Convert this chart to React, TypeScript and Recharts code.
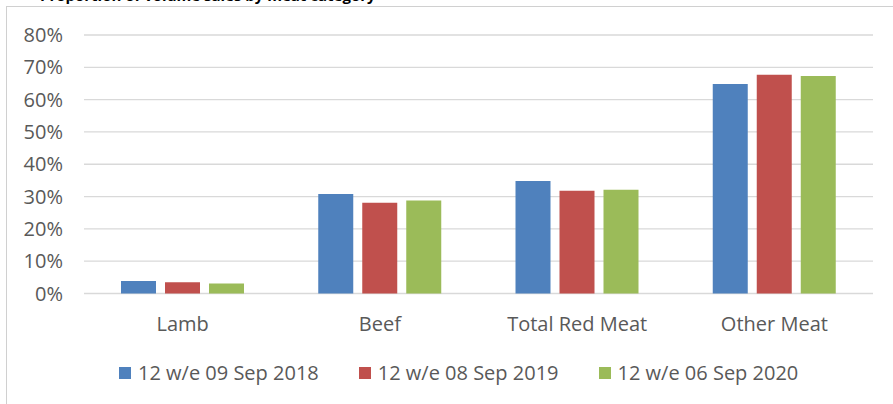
import React from "react";
import {
  BarChart,
  Bar,
  XAxis,
  YAxis,
  CartesianGrid,
  Legend,
} from "recharts";

const categories = ["Lamb", "Beef", "Total Red Meat", "Other Meat"];
const series2018 = [0.039, 0.308, 0.348, 0.648];
const series2019 = [0.035, 0.281, 0.318, 0.677];
const series2020 = [0.031, 0.288, 0.321, 0.673];
const yTicks = [0, 0.1, 0.2, 0.3, 0.4, 0.5, 0.6, 0.7, 0.8];

const SERIES = [
  { key: "s2018", name: "12 w/e 09 Sep 2018", color: "#4F81BD", values: series2018 },
  { key: "s2019", name: "12 w/e 08 Sep 2019", color: "#C0504D", values: series2019 },
  { key: "s2020", name: "12 w/e 06 Sep 2020", color: "#9BBB59", values: series2020 },
];

const data = categories.map((c, i) => {
  const row: Record<string, number | string> = { category: c };
  SERIES.forEach((s) => {
    row[s.key] = s.values[i];
  });
  return row;
});

const FONT = "'Open Sans', 'Noto Sans', sans-serif";
const GREY = "#595959";

function SquareLegend() {
  return (
    <div style={{ display: "flex", alignItems: "center", gap: 40 }}>
      {SERIES.map((s) => (
        <div key={s.key} style={{ display: "flex", alignItems: "center" }}>
          <span
            style={{
              display: "inline-block",
              width: 12,
              height: 12,
              background: s.color,
              marginRight: 7,
            }}
          />
          <span
            style={{
              fontFamily: FONT,
              fontSize: 20,
              lineHeight: "20px",
              color: GREY,
              whiteSpace: "nowrap",
            }}
          >
            {s.name}
          </span>
        </div>
      ))}
    </div>
  );
}

export default function App() {
  return (
    <div
      style={{
        position: "relative",
        width: 893,
        height: 404,
        overflow: "hidden",
        background: "#fff",
      }}
    >
      <style>{`html,body{margin:0;padding:0;overflow:hidden}`}</style>
      {/* chart frame: only top/left edges fall inside the shot */}
      <div
        style={{
          position: "absolute",
          left: 6,
          top: 6,
          width: 900,
          height: 420,
          borderTop: "1px solid #d0d0d0",
          borderLeft: "1px solid #d0d0d0",
        }}
      />
      {/* title sits mostly above the visible area */}
      <div
        style={{
          position: "absolute",
          left: 40,
          top: -12,
          fontFamily: FONT,
          fontWeight: 700,
          fontSize: 15,
          lineHeight: "15px",
          color: "#000",
          whiteSpace: "nowrap",
        }}
      >
        Proportion of volume sales by meat category
      </div>
      <div style={{ position: "absolute", left: 8, top: 8 }}>
        <BarChart
          width={877}
          height={388}
          data={data}
          margin={{ top: 27, right: 12, bottom: 42.5, left: 0 }}
          barSize={35}
          barGap={9}
        >
          <CartesianGrid vertical={false} stroke="#d9d9d9" strokeWidth={1.3} />
          <XAxis
            dataKey="category"
            height={60}
            axisLine={false}
            tickLine={false}
            tickMargin={17}
            tick={{ fontSize: 20, fill: GREY, fontFamily: FONT }}
          />
          <YAxis
            width={76}
            domain={[0, 0.8]}
            ticks={yTicks}
            axisLine={false}
            tickLine={false}
            tickMargin={15}
            tickFormatter={(v: number) => `${Math.round(v * 100)}%`}
            tick={{ fontSize: 20, fill: GREY, fontFamily: FONT }}
          />
          <Legend
            layout="horizontal"
            verticalAlign="middle"
            align="center"
            content={() => <SquareLegend />}
            wrapperStyle={{ left: 111, top: 354.7, width: "auto" }}
          />
          {SERIES.map((s) => (
            <Bar
              key={s.key}
              dataKey={s.key}
              name={s.name}
              fill={s.color}
              isAnimationActive={false}
            />
          ))}
        </BarChart>
      </div>
    </div>
  );
}
